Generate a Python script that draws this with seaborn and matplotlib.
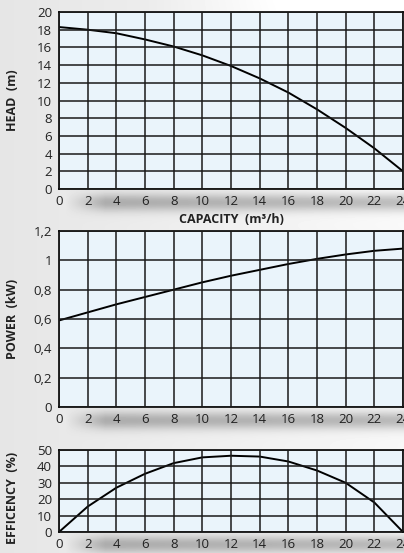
import numpy as np
import pandas as pd
import seaborn as sns
import matplotlib
matplotlib.use("Agg")
from matplotlib import pyplot as plt

capacity = [0, 2, 4, 6, 8, 10, 12, 14, 16, 18, 20, 22, 24]
head = [18.3, 18.0, 17.6, 16.9, 16.1, 15.1, 13.9, 12.5, 10.9, 9.0, 6.9, 4.6, 2.0]
power = [0.59, 0.645, 0.70, 0.75, 0.80, 0.85, 0.895, 0.935, 0.975, 1.01, 1.04, 1.065, 1.08]
efficiency = [0, 15.5, 27, 35.5, 42, 45.5, 46.5, 46, 43, 37.5, 30, 18, 0]

x_ticks = list(range(0, 25, 2))
head_ticks = list(range(0, 21, 2))
power_ticks = [0, 0.2, 0.4, 0.6, 0.8, 1.0, 1.2]
power_labels = ["0", "0,2", "0,4", "0,6", "0,8", "1", "1,2"]
eff_ticks = [0, 10, 20, 30, 40, 50]

df = pd.DataFrame({"capacity": capacity, "head": head, "power": power, "eff": efficiency})

sns.set_theme(style="white")
plt.rcParams["font.family"] = ["Open Sans", "DejaVu Sans"]

W, H = 404, 553
fig = plt.figure(figsize=(W / 100, H / 100), dpi=100)

# background: grey gradient, lighter top-right, with soft shadows under tick rows
yy, xx = np.mgrid[0:H, 0:W].astype(float)
bg = 0.90 + 0.07 * (xx / W)
bg += 0.08 * np.clip(1 - yy / 250, 0, 1) * np.clip((xx - 150) / 200, 0, 1)
for yc in [202, 420, 544]:
    band = np.exp(-((yy - yc) / 9.0) ** 2)
    fade = np.clip((xx - 65) / 40, 0, 1)
    bg -= 0.24 * band * fade
bg = np.clip(bg, 0, 1)
bax = fig.add_axes([0, 0, 1, 1], zorder=-10)
bax.imshow(bg, cmap="gray", vmin=0, vmax=1, aspect="auto", extent=[0, W, H, 0])
bax.axis("off")

left = 59 / W
width = 403 / W - left

def mk(top, bottom):
    return fig.add_axes([left, 1 - bottom / H, width, (bottom - top) / H])

ax1 = mk(12, 189)
ax2 = mk(231, 407)
ax3 = mk(450, 532)

panels = [
    (ax1, "head", head_ticks, None, (0, 20), "HEAD  (m)"),
    (ax2, "power", power_ticks, power_labels, (0, 1.2), "POWER  (kW)"),
    (ax3, "eff", eff_ticks, None, (0, 50), "EFFICENCY  (%)"),
]

for ax, col, yt, ylab, ylim, title in panels:
    ax.set_facecolor("#eaf4fb")
    sns.lineplot(data=df, x="capacity", y=col, ax=ax, color="black", linewidth=1.4)
    ax.set_xlim(0, 24)
    ax.set_ylim(*ylim)
    ax.set_xticks(x_ticks)
    ax.set_yticks(yt)
    if ylab is not None:
        ax.set_yticklabels(ylab)
    ax.grid(True, color="#1a1a1a", linewidth=1.1)
    ax.set_axisbelow(False)
    for s in ax.spines.values():
        s.set_color("black")
        s.set_linewidth(1.2)
    ax.tick_params(length=0, labelsize=9.5, colors="#222222")
    ax.tick_params(axis="x", pad=4)
    ax.tick_params(axis="y", pad=5)
    ax.set_xlabel("")
    ax.set_ylabel(title, fontsize=9, fontweight="bold", color="#222222")
    ax.yaxis.set_label_coords(-0.115, 0.5)

ax3.yaxis.set_label_coords(-0.115, 0.42)
ax1.set_xlabel("CAPACITY  (m³/h)", fontsize=9, fontweight="bold", color="#222222", labelpad=4)

fig.savefig("out.png", dpi=100)
